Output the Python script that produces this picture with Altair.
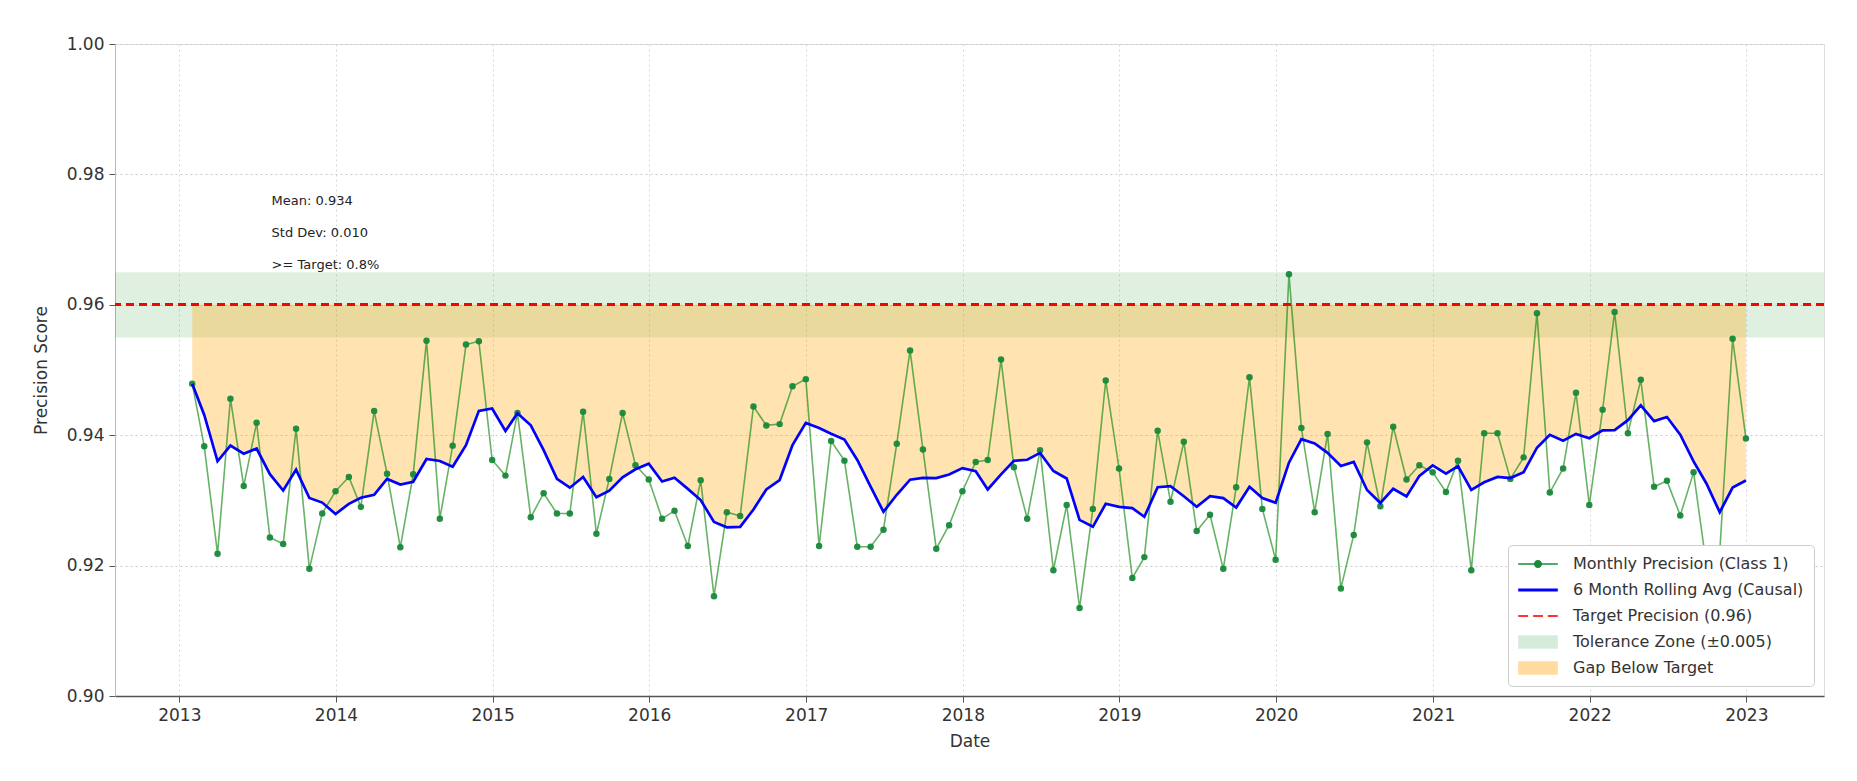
import altair as alt
import pandas as pd

# ---- data (monthly, month-end dates Jan 2013 .. Dec 2022) ----
precision = [
    0.9479, 0.9383, 0.9218, 0.9456, 0.9322, 0.9419, 0.9243, 0.9233, 0.9410, 0.9195,
    0.9280, 0.9314, 0.9336, 0.9290, 0.9437, 0.9341, 0.9228, 0.9340, 0.9545, 0.9272,
    0.9384, 0.9539, 0.9544, 0.9362, 0.9338, 0.9434, 0.9274, 0.9311, 0.9280, 0.9280,
    0.9436, 0.9249, 0.9333, 0.9434, 0.9354, 0.9332, 0.9272, 0.9284, 0.9230, 0.9331,
    0.9153, 0.9282, 0.9276, 0.9444, 0.9415, 0.9417, 0.9475, 0.9486, 0.9230, 0.9391,
    0.9361, 0.9229, 0.9229, 0.9255, 0.9387, 0.9530, 0.9378, 0.9226, 0.9262, 0.9314,
    0.9359, 0.9362, 0.9516, 0.9351, 0.9272, 0.9377, 0.9193, 0.9293, 0.9135, 0.9287,
    0.9484, 0.9349, 0.9181, 0.9213, 0.9407, 0.9298, 0.9390, 0.9253, 0.9278, 0.9195,
    0.9320, 0.9489, 0.9287, 0.9209, 0.9647, 0.9411, 0.9282, 0.9402, 0.9165, 0.9247,
    0.9389, 0.9291, 0.9413, 0.9332, 0.9354, 0.9343, 0.9313, 0.9361, 0.9193, 0.9403,
    0.9403, 0.9333, 0.9366, 0.9587, 0.9312, 0.9349, 0.9465, 0.9293, 0.9439, 0.9589,
    0.9403, 0.9485, 0.9321, 0.9330, 0.9277, 0.9343, 0.9200, 0.9220, 0.9548, 0.9395,
]
dates = (pd.date_range("2013-02-01", periods=len(precision), freq="MS")
         - pd.Timedelta(days=1)).strftime("%Y-%m-%d").tolist()

target = 0.96
tol_low = 0.955
tol_high = 0.965

stat_lines = ["Mean: 0.934", "Std Dev: 0.010", ">= Target: 0.8%"]
stat_values = [0.9759, 0.9710, 0.9661]
stat_date = "2013-08-04"

y_ticks = [0.90, 0.92, 0.94, 0.96, 0.98, 1.00]
years = list(range(2013, 2024))

legend_labels = [
    "Monthly Precision (Class 1)",
    "6 Month Rolling Avg (Causal)",
    "Target Precision (0.96)",
    "Tolerance Zone (\u00b10.005)",
    "Gap Below Target",
]
legend_colors = ["#1a8a3a", "#0000ff", "#ff3333", "#d4ecd9", "#ffdba0"]
legend_shapes = [
    "M-2.2,-0.09H2.2V0.09H-2.2Z M0.45,0A0.45,0.45,0,1,1,-0.45,0A0.45,0.45,0,1,1,0.45,0Z",
    "M-2.2,-0.17H2.2V0.17H-2.2Z",
    "M-2.2,-0.12H-1.09V0.12H-2.2Z M-0.55,-0.12H0.55V0.12H-0.55Z M1.09,-0.12H2.2V0.12H1.09Z",
    "M-2.2,-0.75H2.2V0.75H-2.2Z",
    "M-2.2,-0.75H2.2V0.75H-2.2Z",
]

# ---- tables ----
df = pd.DataFrame({"date": dates, "precision": precision})
stats_df = pd.DataFrame({"date": [stat_date] * 3, "y": stat_values, "text": stat_lines})
zone_df = pd.DataFrame({"x": ["2012-08-04"], "x2": ["2023-07-01"], "y": [tol_low], "y2": [tol_high]})
legend_df = pd.DataFrame({"date": ["2018-01-01"] * 5, "y": [0.5] * 5, "label": legend_labels})

FONT = "DejaVu Sans"
x_scale = alt.Scale(domain=[alt.DateTime(year=2012, month=8, date=4),
                            alt.DateTime(year=2023, month=7, date=1)])
y_scale = alt.Scale(domain=[0.90, 1.00], nice=False, zero=False)

x_axis = alt.Axis(
    values=[alt.DateTime(year=y, month=1, date=1) for y in years],
    format="%Y", title="Date", grid=True, gridDash=[2, 3], gridColor="#d9d9d9",
    labelFontSize=17, titleFontSize=17, labelColor="#333", titleColor="#333",
    titleFontWeight="normal",
    tickSize=6, labelPadding=5, titlePadding=10, domainColor="#555", domainWidth=1.5,
    tickColor="#555", labelFont=FONT, titleFont=FONT,
)
y_axis = alt.Axis(
    values=y_ticks, format=".2f", title="Precision Score", grid=True, gridDash=[2, 3],
    gridColor="#cccccc", labelFontSize=17, titleFontSize=17, labelColor="#333",
    titleColor="#333", titleFontWeight="normal", tickSize=6, labelPadding=5, titlePadding=16,
    domainColor="#bbbbbb", tickColor="#555", labelFont=FONT, titleFont=FONT,
)

Xn = alt.X("date:T", scale=x_scale)

base = alt.Chart(df)
rolled = base.transform_window(roll="mean(precision)", frame=[-5, 0],
                               sort=[alt.SortField("date")])

zone = alt.Chart(zone_df).mark_rect(color="#008000", opacity=0.12).encode(
    x=alt.X("x:T", scale=x_scale, axis=x_axis), x2="x2:T",
    y=alt.Y("y:Q", scale=y_scale, axis=y_axis), y2="y2:Q",
)

gap = rolled.mark_area(color="#ffa500", opacity=0.3).encode(
    x=Xn, y=alt.Y("roll:Q", scale=y_scale), y2=alt.datum(target),
)

target_rule = alt.Chart(df).mark_rule(color="#ff0000", strokeDash=[8, 5], strokeWidth=2,
                                      opacity=0.9).encode(
    y=alt.Y(datum=target, scale=y_scale)
)

monthly_line = base.mark_line(color="#008000", opacity=0.6, strokeWidth=1.6).encode(
    x=Xn, y=alt.Y("precision:Q", scale=y_scale),
)
monthly_pts = base.mark_point(filled=True, color="#17883a", size=42, opacity=0.95).encode(
    x=Xn, y=alt.Y("precision:Q", scale=y_scale),
)
roll_line = rolled.mark_line(color="#0000ff", strokeWidth=2.7).encode(
    x=Xn, y=alt.Y("roll:Q", scale=y_scale),
)

stats_text = alt.Chart(stats_df).mark_text(
    align="left", baseline="middle", fontSize=13, font=FONT, color="#222"
).encode(x=Xn, y=alt.Y("y:Q", scale=y_scale), text="text:N")

leg = alt.Legend(
    title=None, orient="bottom-right", offset=10, symbolSize=324, rowPadding=9,
    labelOffset=26, symbolOffset=11, padding=10, cornerRadius=4,
    strokeColor="#cccccc", fillColor="white", labelFontSize=16, labelFont=FONT,
    labelColor="#333", symbolStrokeWidth=0, symbolOpacity=1, labelLimit=400,
)
legend_layer = alt.Chart(legend_df).mark_point(filled=True, clip=True, opacity=1).encode(
    x=Xn, y=alt.Y("y:Q", scale=y_scale),
    color=alt.Color("label:N", scale=alt.Scale(domain=legend_labels, range=legend_colors),
                    legend=leg),
    shape=alt.Shape("label:N", scale=alt.Scale(domain=legend_labels, range=legend_shapes),
                    legend=leg),
)

chart = alt.layer(
    zone, gap, target_rule, monthly_line, monthly_pts, roll_line, stats_text, legend_layer
).properties(
    width=1709, height=652,
    autosize=alt.AutoSizeParams(type="none"),
    padding={"left": 107, "top": 36, "right": 25, "bottom": 70},
).configure_view(stroke=None).configure(font=FONT)

chart.save("out.html", embed_options={"renderer": "svg", "actions": False})
